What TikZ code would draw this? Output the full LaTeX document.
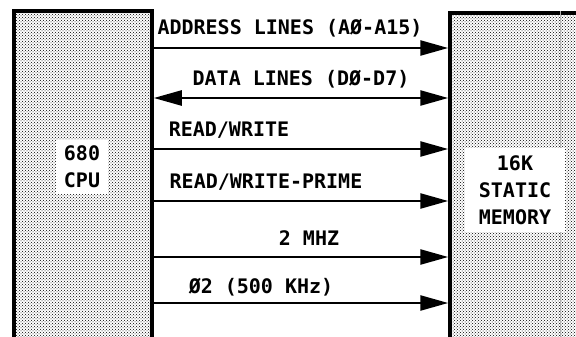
\documentclass[tikz,border=0pt]{standalone}
\usepackage{fontspec}
\setmonofont{DejaVu Sans Mono}
\usetikzlibrary{positioning,arrows.meta,patterns}

\begin{document}
\begin{tikzpicture}[x=1pt,y=-1pt,
    font=\ttfamily\bfseries\fontsize{20}{27}\selectfont]
\fill[white] (0,0) rectangle (576,337);
\useasboundingbox (0,0) rectangle (576,337);
\clip (0,0) rectangle (576,337);

% the two blocks
\begin{scope}[every node/.style={draw,line width=3.5pt,rectangle,inner sep=0pt,
              pattern=crosshatch dots,pattern color=black}]
    \node[minimum width=138pt,minimum height=334pt] (cpu) at (83,178) {};
    \node[minimum width=140pt,minimum height=332pt] (mem) at (520,179) {};
\end{scope}
\draw[gray!60,line width=0.4pt] (mem.north -| 560,0) -- (mem.south -| 560,0);

\node[fill=white,align=center,inner xsep=8pt,inner ysep=6pt] (cpulbl) at (82,167) {680\\CPU};
\node[fill=white,align=center,inner xsep=14pt,inner ysep=7pt] (memlbl) at (515,190) {16K\\STATIC\\MEMORY};

% rows of the bus
\foreach \y [count=\i] in {48,98,149,201,257,303}
    \coordinate (r\i) at (300,\y);

\begin{scope}[>={Triangle[length=28pt,width=15pt]},
              every edge/.style={draw=black,line width=2.5pt}]
    \path [->] (cpu.east |- r1) edge (mem.west |- r1);
    \path [<->] (cpu.east |- r2) edge (mem.west |- r2);
    \path [->] (cpu.east |- r3) edge (mem.west |- r3);
    \path [->] (cpu.east |- r4) edge (mem.west |- r4);
    \path [->] (cpu.east |- r5) edge (mem.west |- r5);
    \path [->] (cpu.east |- r6) edge (mem.west |- r6);
\end{scope}

\node (addr) at (290,28) {ADDRESS LINES (AØ-A15)};
\node (data) at (301,79) {DATA LINES (DØ-D7)};
\node (rw) at (229,130) {READ/WRITE};
\node (rwp) at (266,182) {READ/WRITE-PRIME};
\node (clk) at (309,238) {2 MHZ};
\node (phi) at (261,287) {Ø2 (500 KHz)};
\end{tikzpicture}
\end{document}
